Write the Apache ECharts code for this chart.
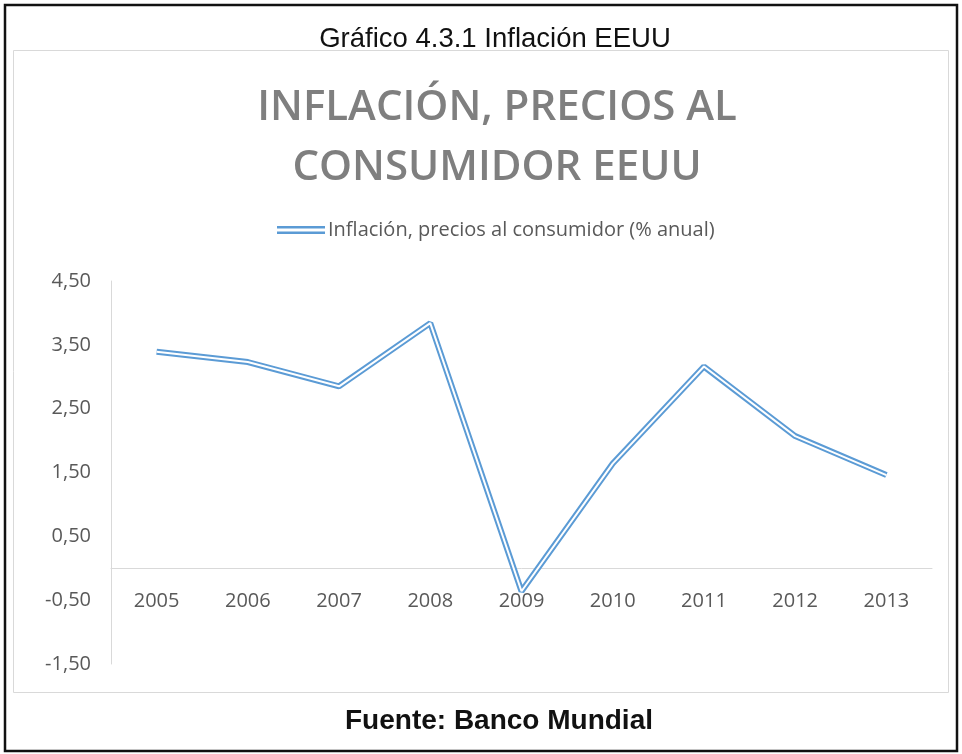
<!DOCTYPE html>
<html>
<head>
<meta charset="utf-8">
<script src="https://cdn.jsdelivr.net/npm/echarts@6/dist/echarts.min.js"></script>
<style>
  html, body { margin: 0; padding: 0; background: #fff; }
  #chart { width: 962px; height: 754px; }
</style>
</head>
<body>
<div id="chart"></div>
<script>
// datos
const years = ['2005', '2006', '2007', '2008', '2009', '2010', '2011', '2012', '2013']
const inflation = [3.39, 3.23, 2.85, 3.84, -0.36, 1.64, 3.16, 2.07, 1.46]
const yMin = -1.5
const yMax = 4.5
const yStep = 1
const seriesName = 'Inflación, precios al consumidor (% anual)'

const chart = echarts.init(document.getElementById('chart'))
const fmt = (v) => v.toFixed(2).replace('.', ',')

// el eje X se dibuja en el cero: desplazamiento desde el borde inferior del grid
const gridTop = 281
const gridBottom = 90
const plotH = 754 - gridTop - gridBottom
const zeroOffset = -plotH * (0 - yMin) / (yMax - yMin)

chart.setOption({
  backgroundColor: '#fff',
  animation: false,
  graphic: [
    // marco exterior negro
    { type: 'rect', shape: { x: 5, y: 5, width: 952, height: 746 },
      style: { fill: 'none', stroke: '#111', lineWidth: 2.5 }, silent: true },
    // marco interior del gráfico
    { type: 'rect', shape: { x: 13.5, y: 50.5, width: 935, height: 642 },
      style: { fill: 'none', stroke: '#d9d9d9', lineWidth: 1 }, silent: true }
  ],
  title: [
    { text: 'Gráfico 4.3.1 Inflación EEUU', left: 490, textAlign: 'center', top: 20,
      textStyle: { fontFamily: 'Liberation Sans', fontWeight: 'normal', fontSize: 27.5, color: '#111' } },
    { text: 'INFLACIÓN, PRECIOS AL\nCONSUMIDOR EEUU', left: 492, textAlign: 'center', top: 73,
      textStyle: { fontFamily: 'Open Sans', fontWeight: 600, fontSize: 42, lineHeight: 60, color: '#7f7f7f' } },
    { text: 'Fuente: Banco Mundial', left: 494, textAlign: 'center', top: 702,
      textStyle: { fontFamily: 'Liberation Sans', fontWeight: 'bold', fontSize: 28, color: '#111' } }
  ],
  legend: {
    data: [seriesName], top: 215, left: 272,
    icon: 'path://M0,0H48V2.5H0Z M0,5.5H48V8H0Z',
    itemWidth: 48, itemHeight: 8, itemGap: 4,
    textStyle: { fontFamily: 'Open Sans', fontSize: 20, color: '#595959', padding: [0, 0, 0, -2] }
  },
  grid: { left: 111, right: 30, top: gridTop, bottom: gridBottom, containLabel: false },
  xAxis: {
    type: 'category', data: years, boundaryGap: true,
    offset: zeroOffset,
    axisLine: { onZero: false, lineStyle: { color: '#d9d9d9', width: 1 } },
    axisTick: { show: false },
    axisLabel: { margin: 23, fontFamily: 'Open Sans', fontSize: 20, color: '#595959' }
  },
  yAxis: {
    type: 'value', min: yMin, max: yMax, interval: yStep,
    axisLine: { show: true, lineStyle: { color: '#d9d9d9', width: 1 } },
    axisTick: { show: false },
    splitLine: { show: false },
    axisLabel: { margin: 20, formatter: fmt, fontFamily: 'Open Sans', fontSize: 20, color: '#595959' }
  },
  series: [
    { name: seriesName, type: 'line', data: inflation, symbol: 'none',
      lineStyle: { width: 6, color: '#5b9bd5' }, itemStyle: { color: '#5b9bd5' } },
    { name: 'interior', type: 'line', data: inflation, symbol: 'none', silent: true,
      lineStyle: { width: 2, color: '#ffffff' } }
  ]
})
</script>
</body>
</html>
